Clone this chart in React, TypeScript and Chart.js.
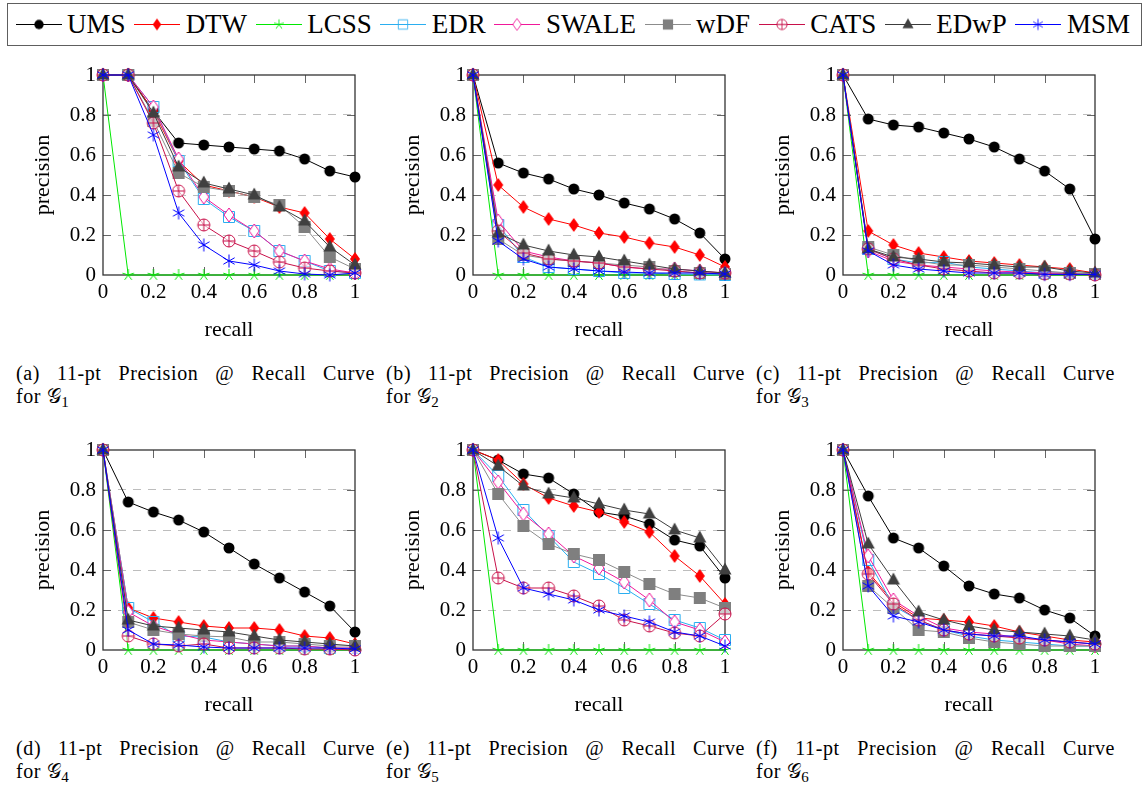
import React, { useEffect, useRef } from 'react';
import { Chart, registerables } from 'chart.js';

Chart.register(...registerables);

// ---------------- data ----------------
const RECALL = [0, 0.1, 0.2, 0.3, 0.4, 0.5, 0.6, 0.7, 0.8, 0.9, 1];
const AXIS_TICKS = [0, 0.2, 0.4, 0.6, 0.8, 1];
const METHODS = ['UMS', 'DTW', 'LCSS', 'EDR', 'SWALE', 'wDF', 'CATS', 'EDwP', 'MSM'];
const SUBFIG_LETTERS = ['a', 'b', 'c', 'd', 'e', 'f'];
const CAPTION_TEXT = '11-pt Precision @ Recall Curve';
const X_TITLE = 'recall';
const Y_TITLE = 'precision';

// one row per graph G1..G6, 11 precision values per row (recall 0..1)
const UMS = [
  [1, 1, 0.82, 0.66, 0.65, 0.64, 0.63, 0.62, 0.58, 0.52, 0.49],
  [1, 0.56, 0.51, 0.48, 0.43, 0.40, 0.36, 0.33, 0.28, 0.21, 0.08],
  [1, 0.78, 0.75, 0.74, 0.71, 0.68, 0.64, 0.58, 0.52, 0.43, 0.18],
  [1, 0.74, 0.69, 0.65, 0.59, 0.51, 0.43, 0.36, 0.29, 0.22, 0.09],
  [1, 0.95, 0.88, 0.86, 0.78, 0.69, 0.67, 0.63, 0.55, 0.52, 0.36],
  [1, 0.77, 0.56, 0.51, 0.42, 0.32, 0.28, 0.26, 0.20, 0.16, 0.07],
];
const DTW = [
  [1, 1, 0.82, 0.57, 0.45, 0.42, 0.39, 0.34, 0.31, 0.18, 0.08],
  [1, 0.45, 0.34, 0.28, 0.25, 0.21, 0.19, 0.16, 0.14, 0.10, 0.04],
  [1, 0.22, 0.15, 0.11, 0.09, 0.07, 0.06, 0.05, 0.04, 0.03, 0.01],
  [1, 0.21, 0.16, 0.14, 0.12, 0.11, 0.11, 0.10, 0.07, 0.06, 0.03],
  [1, 0.95, 0.83, 0.76, 0.72, 0.69, 0.64, 0.59, 0.47, 0.37, 0.23],
  [1, 0.39, 0.24, 0.16, 0.15, 0.14, 0.12, 0.09, 0.07, 0.05, 0.04],
];
const LCSS = [
  [1, 0, 0, 0, 0, 0, 0, 0, 0, 0, 0],
  [1, 0, 0, 0, 0, 0, 0, 0, 0, 0, 0],
  [1, 0, 0, 0, 0, 0, 0, 0, 0, 0, 0],
  [1, 0, 0, 0, 0, 0, 0, 0, 0, 0, 0],
  [1, 0, 0, 0, 0, 0, 0, 0, 0, 0, 0],
  [1, 0, 0, 0, 0, 0, 0, 0, 0, 0, 0],
];
const EDR = [
  [1, 1, 0.84, 0.57, 0.38, 0.29, 0.22, 0.12, 0.07, 0.02, 0.01],
  [1, 0.25, 0.09, 0.04, 0.03, 0.02, 0.01, 0.01, 0.005, 0.003, 0],
  [1, 0.13, 0.08, 0.06, 0.065, 0.04, 0.03, 0.02, 0.01, 0.01, 0.005],
  [1, 0.21, 0.14, 0.07, 0.065, 0.04, 0.03, 0.02, 0.02, 0.01, 0.01],
  [1, 0.87, 0.70, 0.57, 0.44, 0.38, 0.31, 0.23, 0.15, 0.11, 0.05],
  [1, 0.45, 0.22, 0.15, 0.10, 0.07, 0.05, 0.04, 0.03, 0.02, 0.02],
];
const SWALE = [
  [1, 1, 0.84, 0.58, 0.39, 0.30, 0.22, 0.12, 0.07, 0.03, 0.01],
  [1, 0.27, 0.12, 0.09, 0.07, 0.06, 0.04, 0.03, 0.03, 0.02, 0.01],
  [1, 0.12, 0.07, 0.05, 0.04, 0.03, 0.02, 0.015, 0.01, 0.01, 0.005],
  [1, 0.19, 0.12, 0.08, 0.05, 0.04, 0.03, 0.02, 0.02, 0.01, 0.01],
  [1, 0.84, 0.68, 0.58, 0.47, 0.41, 0.34, 0.25, 0.14, 0.10, 0.04],
  [1, 0.47, 0.25, 0.17, 0.11, 0.09, 0.08, 0.06, 0.05, 0.03, 0.02],
];
const WDF = [
  [1, 1, 0.77, 0.51, 0.44, 0.42, 0.39, 0.35, 0.24, 0.09, 0.03],
  [1, 0.18, 0.10, 0.08, 0.07, 0.06, 0.05, 0.04, 0.02, 0.01, 0.005],
  [1, 0.14, 0.10, 0.07, 0.05, 0.05, 0.04, 0.03, 0.02, 0.01, 0.005],
  [1, 0.14, 0.10, 0.08, 0.07, 0.065, 0.04, 0.04, 0.03, 0.02, 0.02],
  [1, 0.78, 0.62, 0.53, 0.48, 0.45, 0.39, 0.33, 0.28, 0.26, 0.21],
  [1, 0.32, 0.21, 0.10, 0.09, 0.06, 0.04, 0.03, 0.02, 0.02, 0.02],
];
const CATS = [
  [1, 1, 0.76, 0.42, 0.25, 0.17, 0.12, 0.065, 0.035, 0.02, 0.01],
  [1, 0.22, 0.11, 0.08, 0.07, 0.06, 0.04, 0.03, 0.02, 0.01, 0.01],
  [1, 0.13, 0.08, 0.05, 0.03, 0.02, 0.01, 0.01, 0.005, 0.005, 0],
  [1, 0.07, 0.03, 0.02, 0.03, 0.01, 0.01, 0.01, 0.005, 0.005, 0],
  [1, 0.36, 0.31, 0.31, 0.27, 0.22, 0.15, 0.12, 0.085, 0.07, 0.18],
  [1, 0.38, 0.23, 0.15, 0.10, 0.08, 0.07, 0.06, 0.05, 0.04, 0.03],
];
const EDWP = [
  [1, 1, 0.81, 0.54, 0.46, 0.43, 0.40, 0.34, 0.27, 0.14, 0.05],
  [1, 0.21, 0.15, 0.12, 0.10, 0.09, 0.07, 0.05, 0.03, 0.02, 0.01],
  [1, 0.13, 0.09, 0.08, 0.065, 0.06, 0.05, 0.04, 0.04, 0.02, 0.01],
  [1, 0.15, 0.12, 0.11, 0.10, 0.09, 0.07, 0.05, 0.04, 0.03, 0.02],
  [1, 0.92, 0.82, 0.78, 0.76, 0.73, 0.70, 0.68, 0.60, 0.56, 0.40],
  [1, 0.53, 0.35, 0.19, 0.15, 0.12, 0.10, 0.09, 0.08, 0.07, 0.05],
];
const MSM = [
  [1, 1, 0.70, 0.31, 0.15, 0.07, 0.05, 0.02, 0.005, 0, 0.01],
  [1, 0.17, 0.08, 0.04, 0.03, 0.02, 0.015, 0.01, 0.01, 0.01, 0.005],
  [1, 0.12, 0.05, 0.03, 0.02, 0.01, 0.01, 0.01, 0.003, 0.003, 0.003],
  [1, 0.10, 0.03, 0.025, 0.015, 0.01, 0.01, 0.01, 0.01, 0.01, 0.005],
  [1, 0.56, 0.31, 0.28, 0.25, 0.20, 0.17, 0.14, 0.09, 0.07, 0.02],
  [1, 0.32, 0.17, 0.14, 0.10, 0.08, 0.07, 0.07, 0.05, 0.04, 0.03],
];

const SERIES = [UMS, DTW, LCSS, EDR, SWALE, WDF, CATS, EDWP, MSM];

// ---------------- styles ----------------
const LINE_COLORS = ['#000000', '#ff0000', '#00e800', '#2aaef0', '#f0189a', '#8c8c8c', '#c8104a', '#3c3c3c', '#0000ff'];
const MARK_COLORS = ['#000000', '#ff0000', '#00e800', '#2aaef0', '#f0189a', '#7f7f7f', '#c8104a', '#404040', '#0000ff'];
const MARK_KINDS = ['circle', 'diamondFill', 'star', 'squareOpen', 'diamondOpen', 'squareFill', 'oplus', 'triangle', 'asterisk'];

const FONT = "'Liberation Serif'";

function makeMarker(kind: string, color: string, scale = 1): HTMLCanvasElement {
  const c = document.createElement('canvas');
  const s = 20;
  c.width = s;
  c.height = s;
  const ctx = c.getContext('2d') as CanvasRenderingContext2D;
  ctx.translate(s / 2, s / 2);
  ctx.scale(scale, scale);
  ctx.strokeStyle = color;
  ctx.fillStyle = color;
  ctx.lineWidth = 1;
  ctx.beginPath();
  switch (kind) {
    case 'circle':
      ctx.arc(0, 0, 5.5, 0, Math.PI * 2);
      ctx.fill();
      break;
    case 'diamondFill':
      ctx.moveTo(0, -7);
      ctx.lineTo(5, 0);
      ctx.lineTo(0, 7);
      ctx.lineTo(-5, 0);
      ctx.closePath();
      ctx.fill();
      break;
    case 'star':
      for (let k = 0; k < 5; k++) {
        const a = -Math.PI / 2 + (k * 2 * Math.PI) / 5;
        ctx.moveTo(0, 0);
        ctx.lineTo(6 * Math.cos(a), 6 * Math.sin(a));
      }
      ctx.stroke();
      break;
    case 'squareOpen':
      ctx.rect(-5.5, -5.5, 11, 11);
      ctx.stroke();
      break;
    case 'diamondOpen':
      ctx.moveTo(0, -7);
      ctx.lineTo(5, 0);
      ctx.lineTo(0, 7);
      ctx.lineTo(-5, 0);
      ctx.closePath();
      ctx.fillStyle = '#ffffff';
      ctx.fill();
      ctx.stroke();
      break;
    case 'squareFill':
      ctx.rect(-6, -6, 12, 12);
      ctx.fill();
      break;
    case 'oplus':
      ctx.arc(0, 0, 6, 0, Math.PI * 2);
      ctx.fillStyle = 'rgba(255,255,255,0.6)';
      ctx.fill();
      ctx.stroke();
      ctx.beginPath();
      ctx.moveTo(-6, 0);
      ctx.lineTo(6, 0);
      ctx.moveTo(0, -6);
      ctx.lineTo(0, 6);
      ctx.stroke();
      break;
    case 'triangle':
      ctx.moveTo(0, -7.5);
      ctx.lineTo(6.5, 4.5);
      ctx.lineTo(-6.5, 4.5);
      ctx.closePath();
      ctx.fill();
      break;
    case 'asterisk':
      for (let k = 0; k < 3; k++) {
        const a = Math.PI / 2 + (k * Math.PI) / 3;
        ctx.moveTo(-6.5 * Math.cos(a), -6.5 * Math.sin(a));
        ctx.lineTo(6.5 * Math.cos(a), 6.5 * Math.sin(a));
      }
      ctx.stroke();
      break;
  }
  return c;
}

const fmt = (v: number) => String(Math.round(v * 10) / 10);

const framePlugin = {
  id: 'pgfFrame',
  beforeDatasetsDraw(chart: any) {
    const { ctx, chartArea: a, scales } = chart;
    const TL = 8;
    ctx.save();
    ctx.strokeStyle = '#666666';
    ctx.lineWidth = 1;
    ctx.beginPath();
    for (const v of AXIS_TICKS) {
      if (v <= 0 || v >= 1) continue;
      const px = Math.round(scales.x.getPixelForValue(v)) + 0.5;
      ctx.moveTo(px, a.top);
      ctx.lineTo(px, a.top + TL);
      ctx.moveTo(px, a.bottom);
      ctx.lineTo(px, a.bottom - TL);
      const py = Math.round(scales.y.getPixelForValue(v)) + 0.5;
      ctx.moveTo(a.left, py);
      ctx.lineTo(a.left + TL, py);
      ctx.moveTo(a.right, py);
      ctx.lineTo(a.right - TL, py);
    }
    ctx.stroke();
    ctx.strokeStyle = '#333333';
    ctx.lineWidth = 1.3;
    ctx.strokeRect(a.left, a.top, a.right - a.left, a.bottom - a.top);
    ctx.restore();
  },
};

const COL_W = 370;
const ROW_TOPS = [55, 430];

function Plot({ g }: { g: number }) {
  const ref = useRef<HTMLCanvasElement>(null);
  useEffect(() => {
    const markers = MARK_KINDS.map((k, i) => makeMarker(k, MARK_COLORS[i]));
    const datasets = SERIES.map((rows, k) => ({
      label: METHODS[k],
      data: RECALL.map((r, i) => ({ x: r, y: rows[g][i] })),
      borderColor: LINE_COLORS[k],
      backgroundColor: MARK_COLORS[k],
      borderWidth: 1,
      pointStyle: markers[k],
      pointRadius: 6,
      pointHoverRadius: 6,
      tension: 0,
      clip: false as any,
      order: -k,
    }));
    const chart = new Chart(ref.current as HTMLCanvasElement, {
      type: 'line',
      data: { datasets },
      plugins: [framePlugin],
      options: {
        animation: false,
        responsive: false,
        maintainAspectRatio: false,
        events: [],
        layout: { padding: { left: 0, right: 15, top: 20, bottom: 0 } },
        plugins: { legend: { display: false }, tooltip: { enabled: false } },
        scales: {
          x: {
            type: 'linear',
            min: 0,
            max: 1,
            afterFit: (s: any) => {
              s.height = 80;
            },
            afterBuildTicks: (s: any) => {
              s.ticks = AXIS_TICKS.map((v) => ({ value: v }));
            },
            ticks: {
              autoSkip: false,
              maxRotation: 0,
              padding: 5,
              color: '#000',
              font: { family: FONT, size: 21 },
              callback: (v: any) => fmt(Number(v)),
            },
            grid: { display: false, drawTicks: false },
            border: { display: false },
            title: {
              display: true,
              text: X_TITLE,
              color: '#000',
              font: { family: FONT, size: 22 },
              padding: { top: 0, bottom: 12 },
            },
          },
          y: {
            type: 'linear',
            min: 0,
            max: 1,
            afterFit: (s: any) => {
              s.width = 103;
            },
            afterBuildTicks: (s: any) => {
              s.ticks = AXIS_TICKS.map((v) => ({ value: v }));
            },
            ticks: {
              padding: 7,
              color: '#000',
              font: { family: FONT, size: 21 },
              callback: (v: any) => fmt(Number(v)),
            },
            grid: {
              drawTicks: false,
              lineWidth: 1,
              color: (c: any) =>
                c.tick && (c.tick.value <= 0 || c.tick.value >= 1) ? 'rgba(0,0,0,0)' : '#bdbdbd',
            },
            border: { display: false, dash: [8, 7] },
            title: {
              display: true,
              text: Y_TITLE,
              color: '#000',
              font: { family: FONT, size: 22 },
              padding: { top: 30, bottom: 0 },
            },
          },
        },
      } as any,
    });
    return () => chart.destroy();
  }, [g]);
  return (
    <canvas
      ref={ref}
      width={COL_W}
      height={300}
      style={{ position: 'absolute', left: (g % 3) * COL_W, top: ROW_TOPS[Math.floor(g / 3)], width: COL_W, height: 300 }}
    />
  );
}

function LegendSample({ k }: { k: number }) {
  const ref = useRef<HTMLCanvasElement>(null);
  useEffect(() => {
    const c = ref.current as HTMLCanvasElement;
    const ctx = c.getContext('2d') as CanvasRenderingContext2D;
    ctx.clearRect(0, 0, c.width, c.height);
    ctx.strokeStyle = LINE_COLORS[k];
    ctx.lineWidth = 1;
    ctx.beginPath();
    ctx.moveTo(0, 10.5);
    ctx.lineTo(46, 10.5);
    ctx.stroke();
    const m = makeMarker(MARK_KINDS[k], MARK_COLORS[k], 0.85);
    ctx.drawImage(m, 23 - m.width / 2, 10.5 - m.height / 2);
  }, [k]);
  return <canvas ref={ref} width={46} height={21} style={{ display: 'block', width: 46, height: 21 }} />;
}

function Legend() {
  return (
    <div
      style={{
        position: 'absolute',
        left: 7,
        top: 3,
        width: 1135,
        height: 43,
        boxSizing: 'border-box',
        border: '1.5px solid #5e5e5e',
        display: 'flex',
        alignItems: 'center',
        paddingLeft: 7.5,
        fontFamily: FONT,
        fontSize: 27,
        lineHeight: 1,
        color: '#000',
      }}
    >
      {METHODS.map((m, k) => (
        <div key={m} style={{ display: 'flex', alignItems: 'center', marginRight: 8.6 }}>
          <LegendSample k={k} />
          <span style={{ marginLeft: 5.5 }}>{m}</span>
        </div>
      ))}
    </div>
  );
}

function Caption({ g }: { g: number }) {
  return (
    <div
      style={{
        position: 'absolute',
        left: 16 + (g % 3) * COL_W,
        top: g < 3 ? 362 : 737,
        width: 359,
        fontFamily: FONT,
        fontSize: 20,
        lineHeight: '23px',
        letterSpacing: '0.6px',
        color: '#000',
      }}
    >
      <div style={{ textAlign: 'justify', textAlignLast: 'justify' as any }}>
        ({SUBFIG_LETTERS[g]}) {CAPTION_TEXT}
      </div>
      <div>
        for <span style={{ fontFamily: "'DejaVu Sans'" }}>𝒢</span>
        <span style={{ fontSize: 15, position: 'relative', top: 4 }}>{g + 1}</span>
      </div>
    </div>
  );
}

export default function App() {
  return (
    <div
      style={{
        position: 'absolute',
        left: 0,
        top: 0,
        width: 1144,
        height: 787,
        overflow: 'hidden',
        background: '#ffffff',
      }}
    >
      <Legend />
      {[0, 1, 2, 3, 4, 5].map((g) => (
        <Plot key={g} g={g} />
      ))}
      {[0, 1, 2, 3, 4, 5].map((g) => (
        <Caption key={'c' + g} g={g} />
      ))}
    </div>
  );
}
